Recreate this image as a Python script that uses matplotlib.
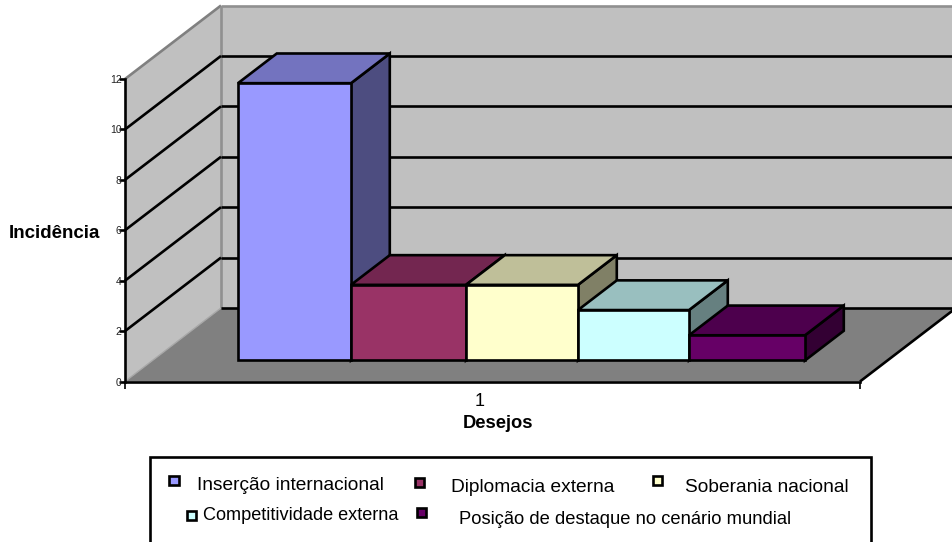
import matplotlib
matplotlib.use("Agg")
import matplotlib.pyplot as plt
from matplotlib.patches import Polygon, FancyBboxPatch, Rectangle

plt.rcParams["font.family"] = ["Liberation Sans", "DejaVu Sans"]

# Data
categories = ["Inserção internacional", "Diplomacia externa", "Soberania nacional",
              "Competitividade externa", "Posição de destaque no cenário mundial"]
values = [11, 3, 3, 2, 1]
value_ticks = [0, 2, 4, 6, 8, 10, 12]
group_label = "1"

# Bar styling
front_colors = ["#9999FF", "#993366", "#FFFFCC", "#CCFFFF", "#660066"]
top_colors = ["#7373BF", "#732650", "#BFBF99", "#99BFBF", "#4D004D"]
side_colors = ["#4D4D80", "#4D1A33", "#808066", "#668080", "#330033"]
bar_edges = [113, 226, 341, 453, 564, 680]  # horizontal extents along the front plane

# Legend layout, in pixels: text left, text centre y, marker x, marker y, font size
legend_layout = [(197, 485, 174, 480, 13.8), (451, 487, 420, 482, 13.8), (685, 487, 657, 480, 13.8),
                 (203, 515, 192, 515, 13.1), (459, 518, 422, 512, 13.2)]

W, H = 953, 542
FLOOR_Y, TOP_Y, LEFT_X, RIGHT_X = 381.5, 79, 125, 860
DEPTH_X, DEPTH_Y = 96, 73.5
LW = 1.9

fig = plt.figure(figsize=(W / 100, H / 100), dpi=100, facecolor="white")
ax = fig.add_axes([LEFT_X / W, 1 - FLOOR_Y / H, (RIGHT_X - LEFT_X) / W, (FLOOR_Y - TOP_Y) / H])
ax.set_xlim(0, RIGHT_X - LEFT_X)
ax.set_ylim(0, 12)
ax.patch.set_visible(False)
units_per_px = 12 / (FLOOR_Y - TOP_Y)


def proj(x, v, d):
    """Oblique projection of front-plane position x, value v and depth d."""
    return x + d * DEPTH_X, v + d * DEPTH_Y * units_per_px


def poly(points, face, edge="black", lw=LW, z=1):
    ax.add_patch(Polygon([proj(*p) for p in points], closed=True, facecolor=face,
                         edgecolor=edge, linewidth=lw, joinstyle="miter",
                         clip_on=False, zorder=z))


def seg(a, b, color="black", lw=LW, z=2):
    pa, pb = proj(*a), proj(*b)
    ax.plot([pa[0], pb[0]], [pa[1], pb[1]], color=color, lw=lw, clip_on=False,
            solid_capstyle="butt", zorder=z)


span = RIGHT_X - LEFT_X
back_end = W - LEFT_X - DEPTH_X

# Walls and floor
poly([(0, 0, 1), (back_end, 0, 1), (back_end, 12, 1), (0, 12, 1)], "#C0C0C0", edge="none")
poly([(0, 0, 0), (0, 12, 0), (0, 12, 1), (0, 0, 1)], "#C0C0C0", edge="none")
poly([(0, 0, 0), (span, 0, 0), (span, 0, 1), (0, 0, 1)], "#808080", edge="none")
seg((0, 12, 0), (0, 12, 1), color="#808080")
seg((0, 12, 1), (back_end, 12, 1), color="#909090")
seg((0, 0, 1), (0, 12, 1), color="#909090")
seg((0, 0, 0), (0, 0, 1), color="#A8A8A8", lw=1)

# Gridlines across the left and back walls
for v in value_ticks[:-1]:
    if v:
        seg((0, v, 0), (0, v, 1))
    seg((0, v, 1), (back_end, v, 1))
seg((span, 0, 0), (span, 0, 1))

# Bars, drawn left to right so that each one overlaps its neighbour
D0, D1 = 0.286, 0.69
for i, v in enumerate(values):
    x0, x1 = bar_edges[i] - D0 * DEPTH_X, bar_edges[i + 1] - D0 * DEPTH_X
    z = 3 + i
    poly([(x1, 0, D0), (x1, 0, D1), (x1, v, D1), (x1, v, D0)], side_colors[i], z=z)
    poly([(x0, v, D0), (x1, v, D0), (x1, v, D1), (x0, v, D1)], top_colors[i], z=z)
    poly([(x0, 0, D0), (x1, 0, D0), (x1, v, D0), (x0, v, D0)], front_colors[i], z=z)

# Axes
for name in ("top", "right"):
    ax.spines[name].set_visible(False)
for name in ("left", "bottom"):
    ax.spines[name].set_linewidth(LW)
    ax.spines[name].set_zorder(2.5)
ax.set_yticks(value_ticks, [str(v) for v in value_ticks])
ax.tick_params(axis="y", length=4, width=LW, labelsize=7.5, pad=-1.5, labelcolor="#222222")
ax.set_xticks([0, span], ["", ""])
ax.tick_params(axis="x", length=5, width=1.2)

ax.text(480 - LEFT_X, 12 * (FLOOR_Y - 401) / (FLOOR_Y - TOP_Y), group_label, ha="center",
        va="center", fontsize=13)


def px_text(x, y, s, **kw):
    fig.text(x / W, 1 - y / H, s, **kw)


px_text(498, 424, "Desejos", ha="center", va="center", fontsize=13.2, fontweight="bold")
px_text(54, 233, "Incidência", ha="center", va="center", fontsize=13.5, fontweight="bold")

# Legend frame runs off the lower edge of the figure
fig.add_artist(Rectangle((150 / W, -0.02), 721 / W, 1.02 - 457 / H, transform=fig.transFigure,
                         facecolor="white", edgecolor="black", linewidth=LW))
for name, color, (tx, ty, mx, my, size) in zip(categories, front_colors, legend_layout):
    px_text(tx, ty + 1, name, ha="left", va="center", fontsize=size)
    fig.add_artist(FancyBboxPatch(((mx - 4.5) / W, 1 - (my + 4.5) / H), 9 / W, 9 / H,
                                  boxstyle="square,pad=0", transform=fig.transFigure,
                                  facecolor=color, edgecolor="black", linewidth=LW))

fig.savefig("out.png", dpi=100)
